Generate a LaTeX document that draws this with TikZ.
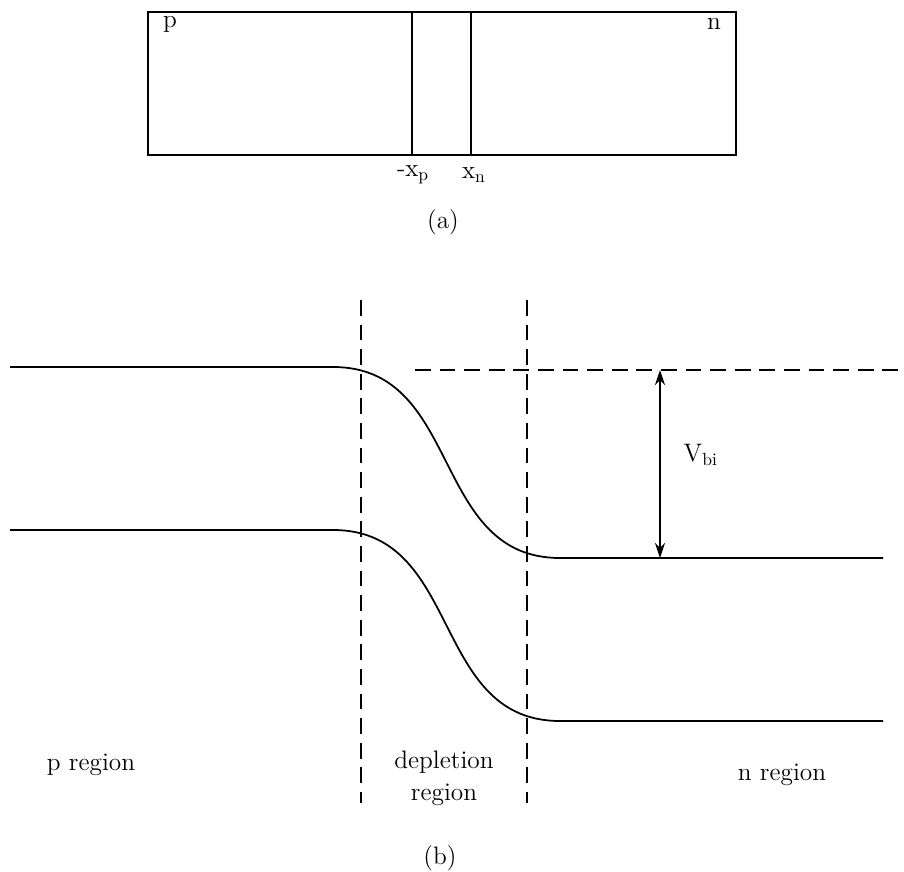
\documentclass[tikz,border=0pt]{standalone}
\usepackage{tikz}
\usetikzlibrary{arrows.meta, positioning}

\begin{document}
\begin{tikzpicture}[x=0.02cm, y=-0.02cm,
  wall/.style={line width=1.3pt},
  band/.style={line width=1pt},
  guide/.style={line width=1pt, dash pattern=on 9pt off 5pt},
  lbl/.style={font=\Large, inner sep=1pt},
  arrow/.style={{Stealth[length=3mm, width=2mm]}-{Stealth[length=3mm, width=2mm]}, line width=1pt}
]
\useasboundingbox (0,0) rectangle (904,872);

% (a) the junction as a bar
\draw[wall] (148,12) rectangle (736,155);
\draw[wall] (412,12) -- (412,155);
\draw[wall] (471,12) -- (471,155);
\node[lbl] (p) at (170,24) {p};
\node[lbl] (n) at (714,24) {n};
\node[lbl] (xp) at (413,175) {-x\textsubscript{p}};
\node[lbl] (xn) at (474,175) {x\textsubscript{n}};
\node[lbl] (capa) at (443,222) {(a)};

% (b) band diagram
\draw[guide] (361,300) -- (361,803);
\draw[guide] (527,300) -- (527,803);
\draw[guide] (415,370) -- (904,370);

\draw[band] (10,367) -- (333,367) .. controls (463,367) and (430,558) .. (560,558) -- (883,558);
\draw[band] (10,530) -- (333,530) .. controls (463,530) and (430,721) .. (560,721) -- (883,721);

\coordinate (vtop) at (660,370);
\coordinate (vbot) at (660,558);
\draw[arrow] (vtop) -- node[lbl, right=12pt, yshift=5pt] (vbi) {V\textsubscript{bi}} (vbot);

\node[lbl] (preg) at (91,765) {p region};
\node[lbl, align=center] (dep) at (444,778) {depletion\\region};
\node[lbl] (nreg) at (782,775) {n region};
\node[lbl] (capb) at (440,858) {(b)};

\end{tikzpicture}
\end{document}
